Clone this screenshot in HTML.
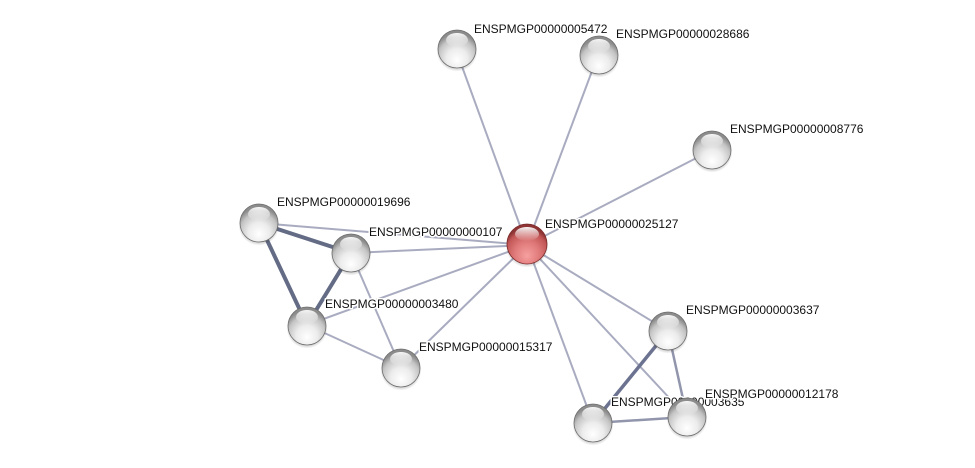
<!DOCTYPE html>
<html><head><meta charset="utf-8"><style>
html,body{margin:0;padding:0;background:#fff;}
svg{display:block;}
text{font-family:"Liberation Sans",Arial,sans-serif;font-size:12px;fill:#111;paint-order:stroke;stroke:#fff;stroke-width:3px;stroke-linejoin:round;}
</style></head><body>
<svg width="975" height="468" viewBox="0 0 975 468" xmlns="http://www.w3.org/2000/svg">
<defs>
<radialGradient id="g" cx="50%" cy="72%" r="62%" fx="50%" fy="80%">
<stop offset="0" stop-color="#ffffff"/>
<stop offset="0.45" stop-color="#ececec"/>
<stop offset="0.8" stop-color="#c4c4c4"/>
<stop offset="1" stop-color="#8c8c8c"/>
</radialGradient>
<radialGradient id="r" cx="50%" cy="72%" r="62%" fx="50%" fy="80%">
<stop offset="0" stop-color="#f7a0a0"/>
<stop offset="0.5" stop-color="#e07a7a"/>
<stop offset="0.85" stop-color="#c25656"/>
<stop offset="1" stop-color="#8e3434"/>
</radialGradient>
<linearGradient id="h" x1="0" y1="0" x2="0" y2="1">
<stop offset="0" stop-color="#fff" stop-opacity="0.95"/>
<stop offset="1" stop-color="#fff" stop-opacity="0"/>
</linearGradient>
<radialGradient id="sh" cx="50%" cy="50%" r="50%">
<stop offset="0.7" stop-color="#000" stop-opacity="0.35"/>
<stop offset="1" stop-color="#000" stop-opacity="0"/>
</radialGradient>
<g id="ball">
<circle cx="0" cy="2" r="20.5" fill="url(#sh)"/>
<circle cx="0" cy="0" r="19" fill="url(#g)" stroke="#6e6e6e" stroke-width="0.8"/>
<ellipse cx="0" cy="-9" rx="11" ry="7" fill="url(#h)"/>
</g>
<g id="rball">
<circle cx="0" cy="2" r="21.5" fill="url(#sh)"/>
<circle cx="0" cy="0" r="20" fill="url(#r)" stroke="#7a2a2a" stroke-width="0.8"/>
<ellipse cx="0" cy="-10" rx="12" ry="7" fill="url(#h)"/>
</g>
</defs>

<!-- thin edges -->
<g stroke="#a9acc0" stroke-width="2" fill="none">
<line x1="527" y1="245" x2="456" y2="50"/>
<line x1="527" y1="245" x2="598" y2="55"/>
<line x1="527" y1="245" x2="712" y2="150"/>
<line x1="527" y1="245" x2="259" y2="223"/>
<line x1="527" y1="245" x2="351" y2="253"/>
<line x1="527" y1="245" x2="307" y2="325"/>
<line x1="527" y1="245" x2="401" y2="368"/>
<line x1="527" y1="245" x2="668" y2="331"/>
<line x1="527" y1="245" x2="687" y2="417"/>
<line x1="527" y1="245" x2="593" y2="423"/>
<line x1="351" y1="253" x2="401" y2="368"/>
<line x1="307" y1="325" x2="401" y2="368"/>
<line x1="593" y1="423" x2="687" y2="417" stroke="#9296ac" stroke-width="2.5"/>
<line x1="668" y1="331" x2="687" y2="417" stroke="#9296ac" stroke-width="2.5"/>
</g>
<!-- thick edges -->
<g stroke="#636b85" stroke-width="4" fill="none">
<line x1="259" y1="223" x2="351" y2="253"/>
<line x1="259" y1="223" x2="307" y2="325"/>
<line x1="351" y1="253" x2="307" y2="325"/>
<line x1="668" y1="331" x2="593" y2="423" stroke="#6c7390" stroke-width="3.5"/>
</g>

<!-- nodes -->
<use href="#ball" x="457" y="49"/>
<use href="#ball" x="599" y="55"/>
<use href="#ball" x="712" y="150"/>
<use href="#ball" x="259" y="223"/>
<use href="#ball" x="351" y="253"/>
<use href="#ball" x="307" y="326"/>
<use href="#ball" x="401" y="368"/>
<use href="#ball" x="668" y="331"/>
<use href="#ball" x="593" y="423"/>
<use href="#rball" x="527" y="244"/>

<!-- labels -->
<text x="474" y="33">ENSPMGP00000005472</text>
<text x="616" y="38">ENSPMGP00000028686</text>
<text x="730" y="133">ENSPMGP00000008776</text>
<text x="545" y="228">ENSPMGP00000025127</text>
<text x="277" y="206">ENSPMGP00000019696</text>
<text x="369" y="236">ENSPMGP00000000107</text>
<text x="325" y="308">ENSPMGP00000003480</text>
<text x="419" y="351">ENSPMGP00000015317</text>
<text x="686" y="314">ENSPMGP00000003637</text>
<text x="611" y="406">ENSPMGP00000003635</text>
<use href="#ball" x="687" y="417"/>
<text x="705" y="398">ENSPMGP00000012178</text>
</svg>
</body></html>
